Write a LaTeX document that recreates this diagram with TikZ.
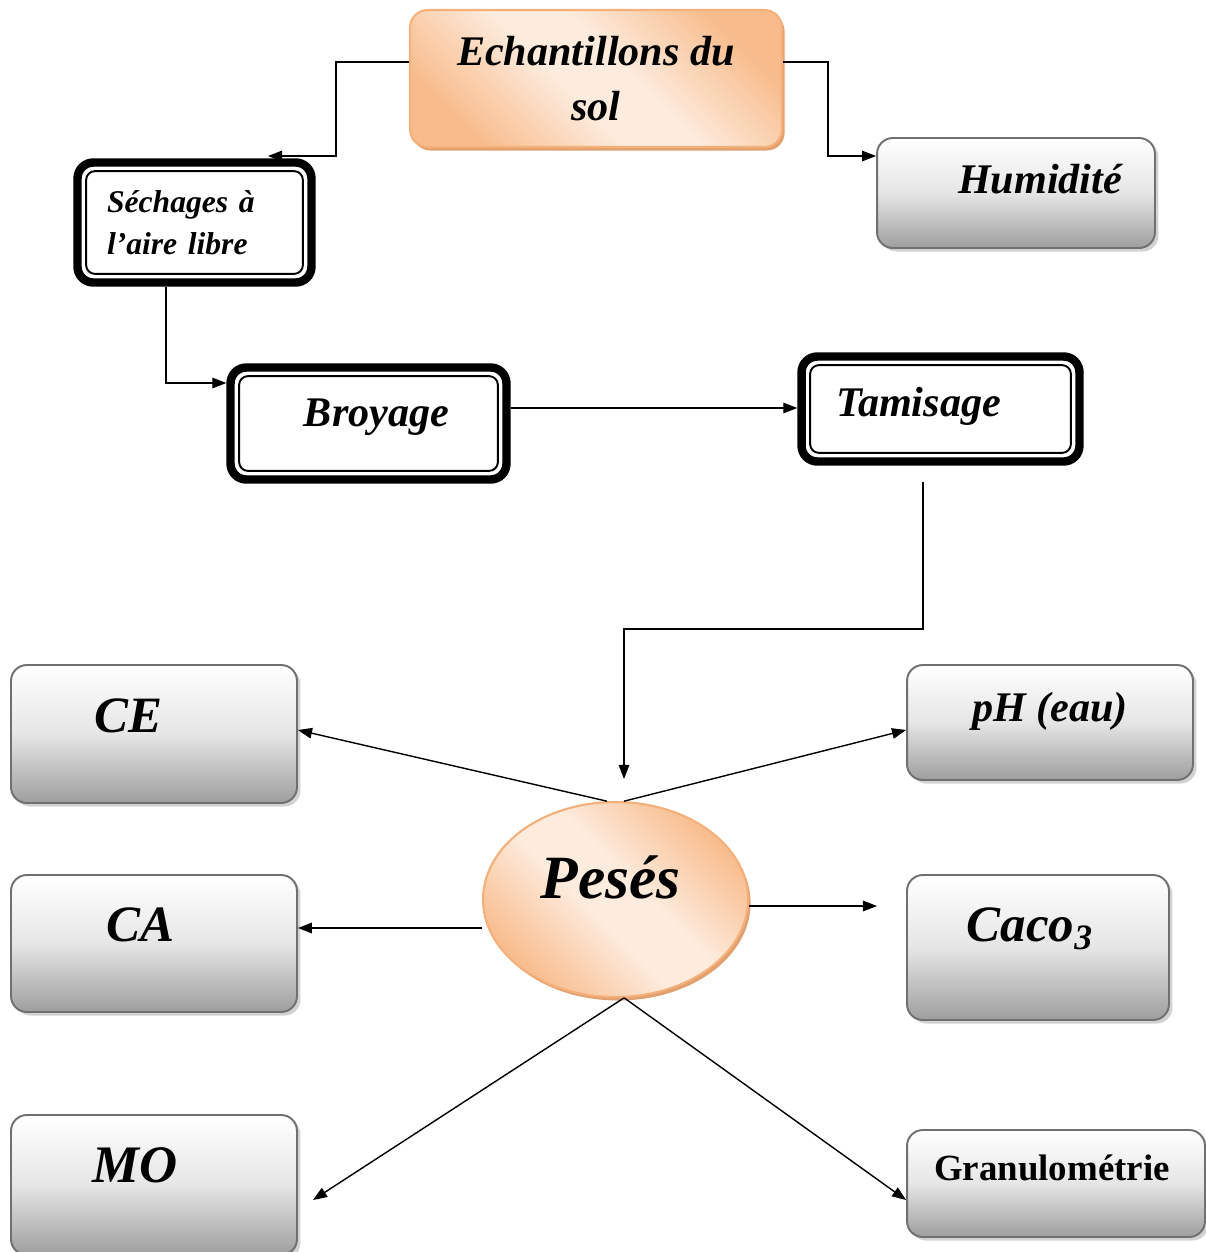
\documentclass[tikz,border=0pt]{standalone}
\usepackage{fontspec}
\setmainfont{Liberation Serif}
\usetikzlibrary{arrows.meta,shadows,shapes.geometric}

\definecolor{peachD}{RGB}{248,188,140}
\definecolor{peachL}{RGB}{253,236,222}
\definecolor{peachE}{RGB}{244,176,122}
\definecolor{peachS}{RGB}{226,160,110}
\definecolor{grayB}{RGB}{158,158,158}
\definecolor{grayE}{RGB}{112,112,112}
\pgfdeclarehorizontalshading{peachy}{100bp}{color(0bp)=(peachD); color(25bp)=(peachD); color(45bp)=(peachL); color(55bp)=(peachL); color(75bp)=(peachD); color(100bp)=(peachD)}

\tikzset{
    arr/.style={->, line width=0.8pt},
    pbox/.style={draw=peachE, line width=1.2pt, shading=peachy, shading angle=45,
        drop shadow={shadow xshift=1.5pt, shadow yshift=-2pt, fill=peachS, opacity=1}},
    gbox/.style={rectangle, draw=grayE, line width=1.1pt, rounded corners=9pt,
        top color=white, bottom color=grayB, middle color=black!10,
        drop shadow={shadow xshift=2pt, shadow yshift=-2pt, fill=black!25, opacity=0.7}},
    dbl/.style={rectangle, draw, line width=4.8pt, rounded corners=9pt, fill=white,
        path picture={\draw[line width=1.1pt, rounded corners=5pt]
            ([shift={(4.9pt,-4.9pt)}]path picture bounding box.north west) rectangle
            ([shift={(-4.9pt,4.9pt)}]path picture bounding box.south east);}},
    lift/.style 2 args={text height=#1, text depth=#2},
    t18/.style={font=\fontsize{18}{24}\selectfont\bfseries\itshape},
    t24/.style={font=\fontsize{24}{31}\selectfont\bfseries\itshape},
    t29/.style={font=\fontsize{29}{35}\selectfont\bfseries\itshape},
}

\begin{document}
\begin{tikzpicture}[x=0.02cm, y=-0.02cm, >={Triangle[length=8pt,width=6pt]}]
    \useasboundingbox (0,0) rectangle (1206,1252);

    \node[pbox, rounded corners=10pt, minimum width=7.44cm, minimum height=2.74cm, align=center, t24] (ech) at (596,78.5) {Echantillons du\\sol};
    \node[gbox, minimum width=5.56cm, minimum height=2.2cm, t24, lift={16pt}{0.56cm}] (hum) at (1016,193) {\hspace*{0.96cm}Humidité};

    \node[dbl, minimum width=4.68cm, minimum height=2.4cm, text width=3.5cm, align=left, t18] (sech) at (194.5,222.5) {Séchages à\\l’aire libre};
    \node[dbl, minimum width=5.52cm, minimum height=2.24cm, t24, lift={16pt}{0.46cm}] (broy) at (368.5,423.5) {\hspace*{0.32cm}Broyage};
    \node[dbl, minimum width=5.56cm, minimum height=2.1cm, t24, lift={16pt}{0.28cm}] (tam) at (940.5,409) {Tamisage\hspace*{0.88cm}};

    \node[pbox, ellipse, minimum width=5.3cm, minimum height=3.9cm, font=\fontsize{35}{40}\selectfont\bfseries\itshape, lift={23pt}{0.86cm}] (pes) at (615.5,899.5) {Pesés\hspace*{0.2cm}};

    \node[gbox, minimum width=5.72cm, minimum height=2.76cm, t29, lift={19pt}{0.72cm}] (ce) at (154,734) {CE\hspace*{1.04cm}};
    \node[gbox, minimum width=5.72cm, minimum height=2.3cm, t24, lift={16pt}{0.6cm}] (ph) at (1050,722.5) {pH (eau)};
    \node[gbox, minimum width=5.72cm, minimum height=2.74cm, t29, lift={19pt}{0.74cm}] (ca) at (154,943.5) {CA\hspace*{0.56cm}};
    \node[gbox, minimum width=5.24cm, minimum height=2.9cm, t29, lift={19pt}{0.92cm}] (caco) at (1038,947.5) {Caco\textsubscript{3}\hspace*{0.32cm}};
    \node[gbox, minimum width=5.72cm, minimum height=2.8cm, font=\fontsize{30}{36}\selectfont\bfseries\itshape, lift={20pt}{0.8cm}] (mo) at (154,1185) {MO\hspace*{0.76cm}};
    \node[gbox, minimum width=5.96cm, minimum height=2.14cm, font=\fontsize{21}{26}\selectfont\bfseries, lift={14pt}{0.6cm}] (gran) at (1056,1183.5) {Granulométrie\hspace*{0.16cm}};

    \coordinate (sechtop) at (268,156);
    \coordinate (weigh) at (624,779);
    \coordinate (cacopt) at (877,906);
    \coordinate (mopt) at (313,1200);

    \draw[arr] (ech.west |- 0,62) -| (336,156) -- (sechtop);
    \draw[arr] (ech.east |- 0,62) -| (828,156) -- (hum.west |- 0,156);
    \draw[arr] (sech.south -| 166,0) |- (broy.west |- 0,383);
    \draw[arr] (broy.east |- 0,408) -- (tam.west |- 0,408);
    \draw[arr, shorten <=9pt] (tam.south -| 923,0) |- (624,629) -- (weigh);

    \draw[arr] (pes.95) -- (ce.east |- 0,730);
    \draw[arr] (pes.85) -- (ph.west |- 0,730);
    \draw[arr] (pes.west |- 0,928) -- (ca.east |- 0,928);
    \draw[arr] (pes.east |- 0,906) -- (cacopt);
    \draw[arr] (pes.275) -- (mopt);
    \draw[arr] (pes.275) -- (gran.west |- 0,1200);

\end{tikzpicture}
\end{document}
